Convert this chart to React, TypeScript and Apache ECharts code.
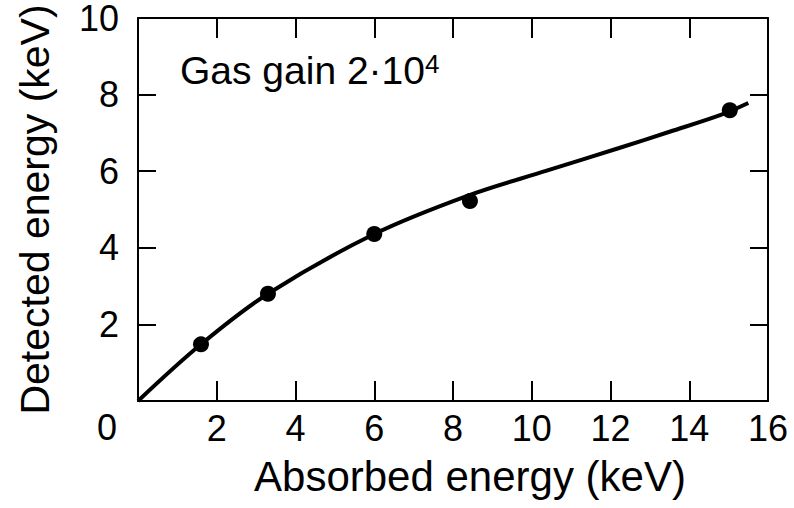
import React, { useEffect, useRef } from "react";
import * as echarts from "echarts";

const xTicks = [0, 2, 4, 6, 8, 10, 12, 14, 16];
const yTicks = [0, 2, 4, 6, 8, 10];
const measuredX = [1.6, 3.3, 6.0, 8.43, 15.03];
const measuredY = [1.48, 2.8, 4.36, 5.22, 7.59];
const fitX = [0, 1.6, 3.3, 6.0, 8.4, 10.4, 12.2, 13.5, 14.8, 15.5];
const fitY = [0, 1.48, 2.8, 4.36, 5.37, 6.02, 6.6, 7.03, 7.47, 7.78];
const xTitle = "Absorbed energy (keV)";
const yTitle = "Detected energy (keV)";
const annotation = "Gas gain 2·10";
const annotationSup = "4";

const FONT = "'Liberation Sans', Arial, Helvetica, sans-serif";

export default function App() {
  const ref = useRef<HTMLDivElement>(null);
  useEffect(() => {
    if (!ref.current) return;
    const chart = echarts.init(ref.current, undefined, { renderer: "svg" });
    const axisLine = { show: true, onZero: false, lineStyle: { color: "#000", width: 2 } };
    const tickStyle = { color: "#000", width: 2 };
    chart.setOption({
      animation: false,
      backgroundColor: "#fff",
      grid: { left: 138, right: 26, top: 16, bottom: 107, containLabel: false },
      xAxis: [
        {
          type: "value",
          min: xTicks[0],
          max: xTicks[xTicks.length - 1],
          interval: 2,
          position: "bottom",
          axisLine,
          axisTick: { show: true, inside: true, length: 20, lineStyle: tickStyle },
          splitLine: { show: false },
          axisLabel: {
            color: "#000",
            fontSize: 36,
            fontFamily: FONT,
            margin: 9,
            formatter: (v: number) => (v === 0 ? "" : String(v)),
          },
          name: xTitle,
          nameLocation: "middle",
          nameGap: 54,
          nameTextStyle: { color: "#000", fontSize: 42, fontFamily: FONT, padding: [0, 0, 0, 34] },
        },
        {
          type: "value",
          min: xTicks[0],
          max: xTicks[xTicks.length - 1],
          interval: 2,
          position: "top",
          axisLine,
          axisTick: { show: true, inside: true, length: 20, lineStyle: tickStyle },
          splitLine: { show: false },
          axisLabel: { show: false },
        },
      ],
      yAxis: [
        {
          type: "value",
          min: yTicks[0],
          max: yTicks[yTicks.length - 1],
          interval: 2,
          position: "left",
          axisLine,
          axisTick: { show: true, inside: true, length: 18, lineStyle: tickStyle },
          splitLine: { show: false },
          axisLabel: {
            color: "#000",
            fontSize: 36,
            lineHeight: 30,
            fontFamily: FONT,
            margin: 19,
            formatter: (v: number) => (v === 0 ? "" : String(v)),
          },
          name: yTitle,
          nameLocation: "middle",
          nameGap: 83,
          nameTextStyle: { color: "#000", fontSize: 41, fontFamily: FONT },
        },
        {
          type: "value",
          min: yTicks[0],
          max: yTicks[yTicks.length - 1],
          interval: 2,
          position: "right",
          axisLine,
          axisTick: { show: true, inside: true, length: 18, lineStyle: tickStyle },
          splitLine: { show: false },
          axisLabel: { show: false },
        },
      ],
      graphic: [
        {
          type: "text",
          left: 97,
          top: 409,
          style: { text: "0", fill: "#000", fontSize: 36, fontFamily: FONT },
        },
        {
          type: "text",
          left: 180,
          top: 51,
          style: {
            text: annotation + "{sup|" + annotationSup + "}",
            fill: "#000",
            fontSize: 39,
            fontFamily: FONT,
            rich: {
              sup: { fontSize: 26, fontFamily: FONT, fill: "#000", verticalAlign: "top" },
            },
          },
        },
      ],
      series: [
        {
          type: "line",
          data: fitX.map((x, i) => [x, fitY[i]]),
          smooth: 0.35,
          showSymbol: false,
          symbol: "none",
          lineStyle: { color: "#000", width: 4 },
          z: 2,
        },
        {
          type: "scatter",
          data: measuredX.map((x, i) => [x, measuredY[i]]),
          symbol: "circle",
          symbolSize: 16,
          itemStyle: { color: "#000", opacity: 1 },
          z: 3,
        },
      ],
    });
    return () => chart.dispose();
  }, []);
  return (
    <div
      ref={ref}
      style={{ position: "fixed", left: 0, top: 0, width: 794, height: 508, background: "#fff" }}
    />
  );
}
